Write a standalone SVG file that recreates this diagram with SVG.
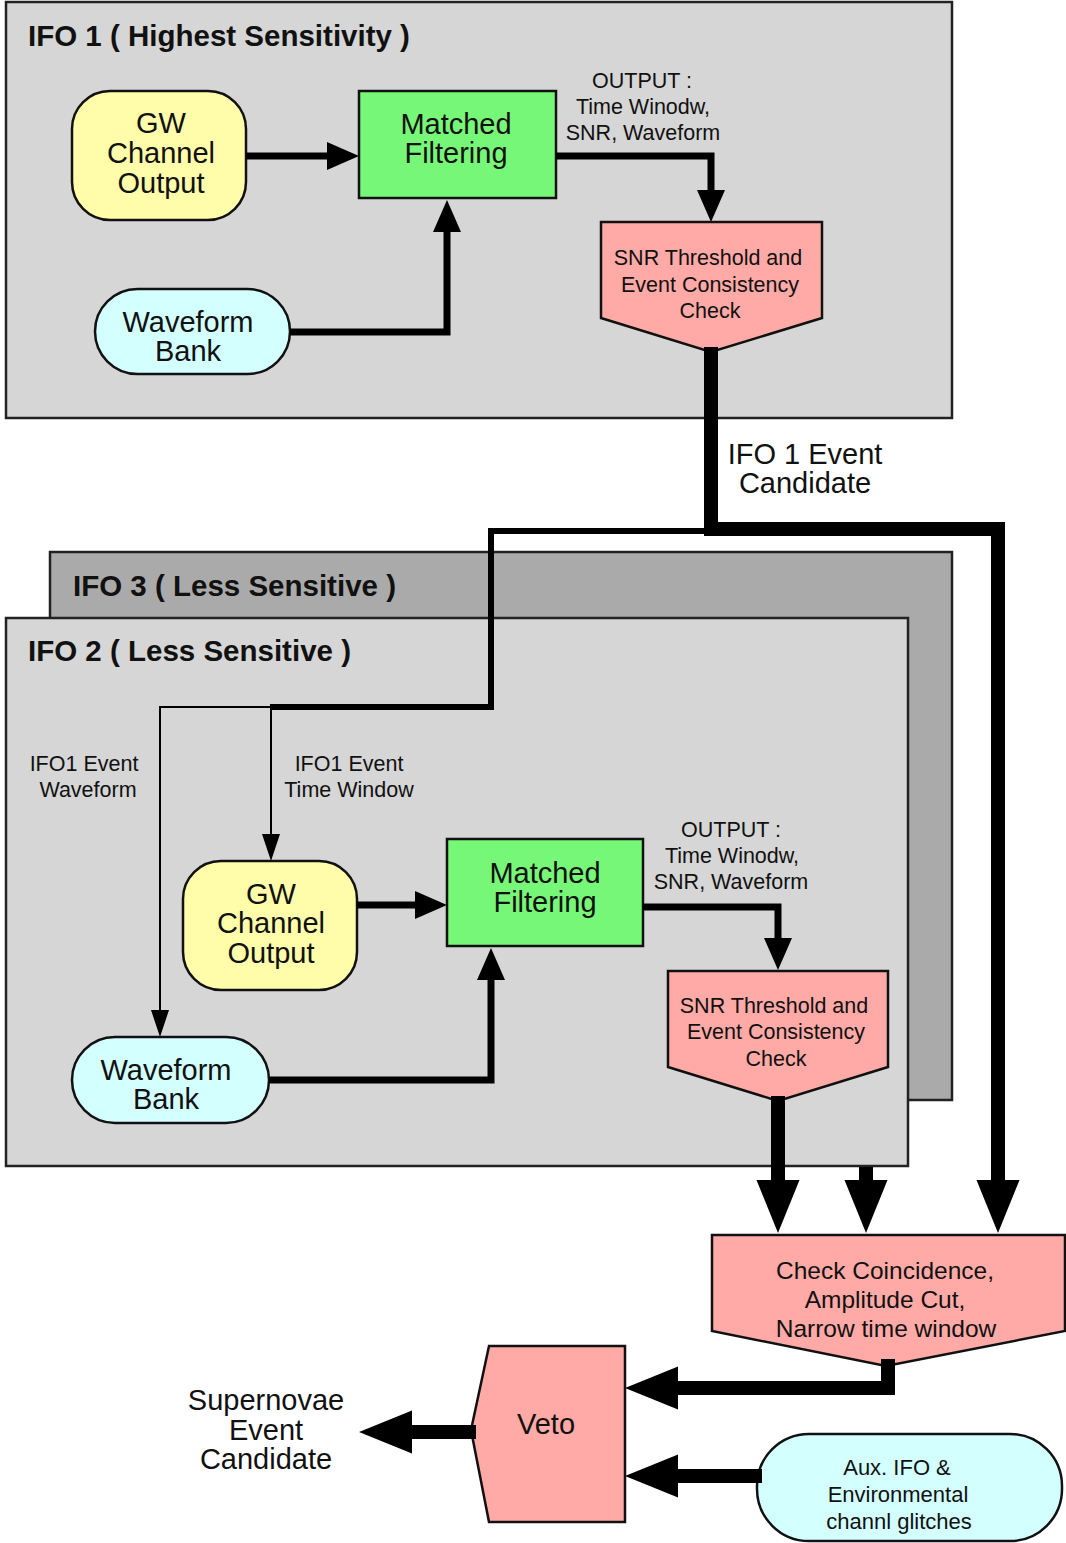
<svg xmlns="http://www.w3.org/2000/svg" width="1066" height="1543" viewBox="0 0 1066 1543">
<defs>
<style>
text{font-family:"Liberation Sans",Arial,sans-serif;fill:#111;text-anchor:middle}
.title{font-weight:bold;font-size:29.5px;text-anchor:start}
.lg{font-size:29px}
.md{font-size:21.5px}
.ck{font-size:24.5px}
.ax{font-size:22px}
.cont{stroke:#222;stroke-width:2.5}
.node{stroke:#111;stroke-width:2.5}
.yel{fill:#fffcaa}
.grn{fill:#77f777}
.cyn{fill:#d4ffff}
.pnk{fill:#ffaaa6}
.c{fill:none;stroke:#000;stroke-linejoin:miter;stroke-linecap:butt}
.w2{stroke-width:2}
.w6{stroke-width:6}
.w7{stroke-width:7}
.w14{stroke-width:14}
</style>
<marker id="big" markerUnits="userSpaceOnUse" viewBox="0 -22 53 44" refX="0" refY="0" markerWidth="53" markerHeight="44" orient="auto" overflow="visible"><path d="M0,-21.5 L53,0 L0,21.5 z" fill="#000"/></marker>
<marker id="mid" markerUnits="userSpaceOnUse" viewBox="0 -15 33 30" refX="0" refY="0" markerWidth="33" markerHeight="30" orient="auto" overflow="visible"><path d="M0,-14 L32,0 L0,14 z" fill="#000"/></marker>
<marker id="sm" markerUnits="userSpaceOnUse" viewBox="0 -10 27 20" refX="0" refY="0" markerWidth="27" markerHeight="20" orient="auto" overflow="visible"><path d="M0,-9 L27,0 L0,9 z" fill="#000"/></marker>
</defs>
<rect width="1066" height="1543" fill="#fff"/>

<g id="ifo1">
<rect class="cont" x="6" y="2" width="946" height="416" fill="#d6d6d6"/>
<text class="title" x="28" y="46">IFO 1 ( Highest Sensitivity )</text>
</g>
<g id="ifo3">
<rect class="cont" x="50" y="552" width="902" height="548" fill="#aaaaaa"/>
<text class="title" x="73" y="596">IFO 3 ( Less Sensitive )</text>
</g>
<g id="ifo2">
<rect class="cont" x="6" y="618" width="902" height="548" fill="#d6d6d6"/>
<text class="title" x="28" y="661">IFO 2 ( Less Sensitive )</text>
</g>

<g id="gw1">
<rect class="node yel" x="72" y="91" width="174" height="129" rx="38"/>
<text class="lg" x="161" y="133">GW</text>
<text class="lg" x="161" y="163">Channel</text>
<text class="lg" x="161" y="193">Output</text>
</g>
<g id="mf1">
<rect class="node grn" x="359" y="91" width="197" height="107"/>
<text class="lg" x="456" y="134">Matched</text>
<text class="lg" x="456" y="163">Filtering</text>
</g>
<g id="wb1">
<rect class="node cyn" x="95" y="289" width="195" height="85" rx="42.5"/>
<text class="lg" x="188" y="332">Waveform</text>
<text class="lg" x="188" y="361">Bank</text>
</g>
<g id="snr1">
<polygon class="node pnk" points="601,222 822,222 822,318 711,352 601,318"/>
<text class="md" x="708" y="265">SNR Threshold and</text>
<text class="md" x="710" y="292">Event Consistency</text>
<text class="md" x="710" y="318">Check</text>
</g>
<g id="out1">
<text class="md" x="642" y="88">OUTPUT :</text>
<text class="md" x="643" y="114">Time Winodw,</text>
<text class="md" x="643" y="140">SNR, Waveform</text>
</g>
<g id="cand1">
<text class="lg" x="805" y="464">IFO 1 Event</text>
<text class="lg" x="805" y="493">Candidate</text>
</g>

<g id="lblwave">
<text class="md" x="84" y="771">IFO1 Event</text>
<text class="md" x="88" y="797">Waveform</text>
</g>
<g id="lbltime">
<text class="md" x="349" y="771">IFO1 Event</text>
<text class="md" x="349" y="797">Time Window</text>
</g>
<g id="gw2">
<rect class="node yel" x="183" y="861" width="174" height="129" rx="38"/>
<text class="lg" x="271" y="904">GW</text>
<text class="lg" x="271" y="933">Channel</text>
<text class="lg" x="271" y="963">Output</text>
</g>
<g id="mf2">
<rect class="node grn" x="447" y="839" width="196" height="107"/>
<text class="lg" x="545" y="883">Matched</text>
<text class="lg" x="545" y="912">Filtering</text>
</g>
<g id="wb2">
<rect class="node cyn" x="72" y="1037" width="197" height="86" rx="43"/>
<text class="lg" x="166" y="1080">Waveform</text>
<text class="lg" x="166" y="1109">Bank</text>
</g>
<g id="snr2">
<polygon class="node pnk" points="668,971 888,971 888,1067 778,1101 668,1067"/>
<text class="md" x="774" y="1013">SNR Threshold and</text>
<text class="md" x="776" y="1039">Event Consistency</text>
<text class="md" x="776" y="1066">Check</text>
</g>
<g id="out2">
<text class="md" x="731" y="837">OUTPUT :</text>
<text class="md" x="732" y="863">Time Winodw,</text>
<text class="md" x="731" y="889">SNR, Waveform</text>
</g>

<g id="coinc">
<polygon class="node pnk" points="712,1235 1065,1235 1065,1331 886,1366 712,1331"/>
<text class="ck" x="885" y="1279">Check Coincidence,</text>
<text class="ck" x="885" y="1308">Amplitude Cut,</text>
<text class="ck" x="886" y="1337">Narrow time window</text>
</g>
<g id="veto">
<polygon class="node pnk" points="489,1346 625,1346 625,1522 489,1522 471,1430"/>
<text class="lg" x="546" y="1434">Veto</text>
</g>
<g id="aux">
<rect class="node cyn" x="757" y="1434" width="305" height="107" rx="52"/>
<text class="ax" x="897" y="1475">Aux. IFO &amp;</text>
<text class="ax" x="898" y="1502">Environmental</text>
<text class="ax" x="899" y="1529">channl glitches</text>
</g>
<g id="sncand">
<text class="lg" x="266" y="1410">Supernovae</text>
<text class="lg" x="266" y="1440">Event</text>
<text class="lg" x="266" y="1469">Candidate</text>
</g>

<g id="connectors">
<path class="c w7" d="M246,156 H327" marker-end="url(#mid)"/>
<path class="c w7" d="M290,332 H447 V232" marker-end="url(#mid)"/>
<path class="c w7" d="M556,156 H711 V190" marker-end="url(#mid)"/>
<path class="c w14" d="M711,347 V529 H998 V1180" marker-end="url(#big)"/>
<path class="c w6" d="M704,531 H491 V707 H270"/>
<path class="c w2" d="M271,707 H160 V1010" marker-end="url(#sm)"/>
<path class="c w2" d="M271,707 V834" marker-end="url(#sm)"/>
<path class="c w7" d="M357,905 H415" marker-end="url(#mid)"/>
<path class="c w7" d="M269,1080 H491 V980" marker-end="url(#mid)"/>
<path class="c w7" d="M643,907 H778 V938" marker-end="url(#mid)"/>
<path class="c w14" d="M778,1096 V1180" marker-end="url(#big)"/>
<path class="c w14" d="M866,1167 V1180" marker-end="url(#big)"/>
<path class="c w14" d="M888,1359 V1388 H678" marker-end="url(#big)"/>
<path class="c w14" d="M762,1476 H678" marker-end="url(#big)"/>
<path class="c w14" d="M476,1432 H412" marker-end="url(#big)"/>
</g>
</svg>
